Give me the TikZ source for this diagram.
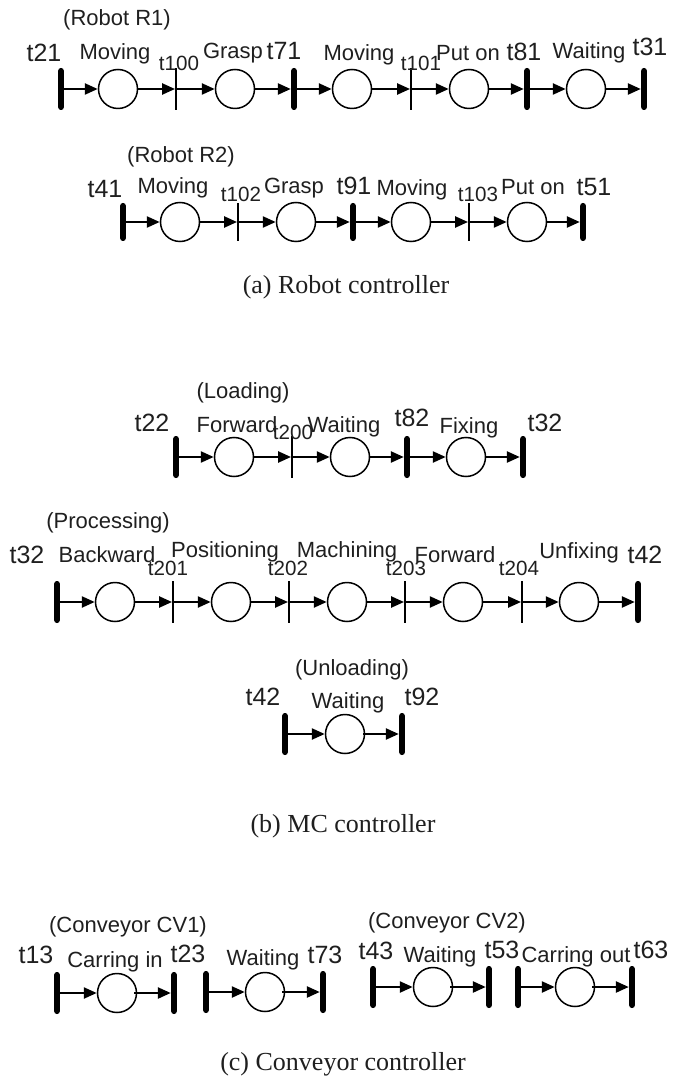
\documentclass[tikz,border=0pt]{standalone}
\usepackage{fontspec}
\newfontfamily\arialfont{Liberation Sans}
\newfontfamily\capfont{Liberation Serif}
\usetikzlibrary{arrows.meta}

\begin{document}
\begin{tikzpicture}[
  x=0.5pt, y=-0.5pt,
  every node/.style = {inner sep=0pt, text=black!88},
  plc/.style = {circle, draw, line width=0.75pt, minimum size=19.5pt},
  tbar/.style = {rectangle, fill=black, rounded corners=1.3pt,
    minimum width=2.8pt, minimum height=21pt},
  tthin/.style = {rectangle, fill=black, minimum width=0.55pt, minimum height=21pt},
  arr/.style = {-{Triangle[length=6.5pt, width=5.5pt]}, line width=1.2pt},
  lbl/.style = {font=\arialfont\fontsize{11}{13}\selectfont},
  tbig/.style = {font=\arialfont\fontsize{12.5}{15}\selectfont},
  tsml/.style = {font=\arialfont\fontsize{10.3}{12}\selectfont},
  capt/.style = {font=\capfont\fontsize{13}{15}\selectfont}
]
\useasboundingbox (0,0) rectangle (673,1080);

% ---- ROBOT R1 (y=89) ----
\node[tbar]  (r1a)  at (61,89)  {};
\node[plc]   (r1p1) at (118,89) {};
\node[tthin] (r1b)  at (176,89) {};
\node[plc]   (r1p2) at (235,89) {};
\node[tbar]  (r1c)  at (294,89) {};
\node[plc]   (r1p3) at (352,89) {};
\node[tthin] (r1d)  at (411,89) {};
\node[plc]   (r1p4) at (469,89) {};
\node[tbar]  (r1e)  at (527,89) {};
\node[plc]   (r1p5) at (586,89) {};
\node[tbar]  (r1f)  at (644,89) {};

\draw[arr] (r1a)  -- (r1p1);  \draw[arr] (r1p1) -- (r1b);
\draw[arr] (r1b)  -- (r1p2);  \draw[arr] (r1p2) -- (r1c);
\draw[arr] (r1c)  -- (r1p3);  \draw[arr] (r1p3) -- (r1d);
\draw[arr] (r1d)  -- (r1p4);  \draw[arr] (r1p4) -- (r1e);
\draw[arr] (r1e)  -- (r1p5);  \draw[arr] (r1p5) -- (r1f);

\node[lbl]  (r1name) at (117,20) {(Robot R1)};
\node[tbig] (r1la)   at (44,53)  {t21};
\node[lbl]  (r1lp1)  at (115,54) {Moving};
\node[tsml] (r1lb)   at (179,63) {t100};
\node[lbl]  (r1lp2)  at (233,53) {Grasp};
\node[tbig] (r1lc)   at (284,51) {t71};
\node[lbl]  (r1lp3)  at (359,55) {Moving};
\node[tsml] (r1ld)   at (421,63) {t101};
\node[lbl]  (r1lp4)  at (468,53) {Put on};
\node[tbig] (r1le)   at (524,52) {t81};
\node[lbl]  (r1lp5)  at (589,53) {Waiting};
\node[tbig] (r1lf)   at (650,47) {t31};

% ---- ROBOT R2 (y=222) ----
\node[tbar, minimum height=19pt]  (r2a)  at (123,222) {};
\node[plc]                        (r2p1) at (180,222) {};
\node[tthin, minimum height=19pt] (r2b)  at (238,222) {};
\node[plc]                        (r2p2) at (296,222) {};
\node[tbar, minimum height=19pt]  (r2c)  at (353,222) {};
\node[plc]                        (r2p3) at (411,222) {};
\node[tthin, minimum height=19pt] (r2d)  at (469,222) {};
\node[plc]                        (r2p4) at (527,222) {};
\node[tbar, minimum height=19pt]  (r2e)  at (583,222) {};

\draw[arr] (r2a)  -- (r2p1);  \draw[arr] (r2p1) -- (r2b);
\draw[arr] (r2b)  -- (r2p2);  \draw[arr] (r2p2) -- (r2c);
\draw[arr] (r2c)  -- (r2p3);  \draw[arr] (r2p3) -- (r2d);
\draw[arr] (r2d)  -- (r2p4);  \draw[arr] (r2p4) -- (r2e);

\node[lbl]  (r2name) at (181,157) {(Robot R2)};
\node[tbig] (r2la)   at (105,189) {t41};
\node[lbl]  (r2lp1)  at (173,188) {Moving};
\node[tsml] (r2lb)   at (241,194) {t102};
\node[lbl]  (r2lp2)  at (294,188) {Grasp};
\node[tbig] (r2lc)   at (354,186) {t91};
\node[lbl]  (r2lp3)  at (412,190) {Moving};
\node[tsml] (r2ld)   at (478,194) {t103};
\node[lbl]  (r2lp4)  at (533,187) {Put on};
\node[tbig] (r2le)   at (594,187) {t51};

\node[capt] (capa) at (346,287) {(a) Robot controller};

% ---- MC LOADING (y=457) ----
\node[tbar]  (lda)  at (176,457) {};
\node[plc]   (ldp1) at (234,457) {};
\node[tthin] (ldb)  at (292,457) {};
\node[plc]   (ldp2) at (350,457) {};
\node[tbar]  (ldc)  at (407,457) {};
\node[plc]   (ldp3) at (466,457) {};
\node[tbar]  (ldd)  at (523,457) {};

\draw[arr] (lda)  -- (ldp1);  \draw[arr] (ldp1) -- (ldb);
\draw[arr] (ldb)  -- (ldp2);  \draw[arr] (ldp2) -- (ldc);
\draw[arr] (ldc)  -- (ldp3);  \draw[arr] (ldp3) -- (ldd);

\node[lbl]  (ldname) at (243,393) {(Loading)};
\node[tbig] (ldla)   at (152,423) {t22};
\node[lbl]  (ldlp1)  at (237,425) {Forward};
\node[tsml] (ldlb)   at (293,432) {t200};
\node[lbl]  (ldlp2)  at (344,427) {Waiting};
\node[tbig] (ldlc)   at (412,418) {t82};
\node[lbl]  (ldlp3)  at (469,428) {Fixing};
\node[tbig] (ldld)   at (545,423) {t32};

% ---- MC PROCESSING (y=602) ----
\node[tbar]  (pra)  at (57,602)  {};
\node[plc]   (prp1) at (115,602) {};
\node[tthin] (prb)  at (173,602) {};
\node[plc]   (prp2) at (231,602) {};
\node[tthin] (prc)  at (289,602) {};
\node[plc]   (prp3) at (347,602) {};
\node[tthin] (prd)  at (405,602) {};
\node[plc]   (prp4) at (463,602) {};
\node[tthin] (pre)  at (522,602) {};
\node[plc]   (prp5) at (579,602) {};
\node[tbar]  (prf)  at (638,602) {};

\draw[arr] (pra)  -- (prp1);  \draw[arr] (prp1) -- (prb);
\draw[arr] (prb)  -- (prp2);  \draw[arr] (prp2) -- (prc);
\draw[arr] (prc)  -- (prp3);  \draw[arr] (prp3) -- (prd);
\draw[arr] (prd)  -- (prp4);  \draw[arr] (prp4) -- (pre);
\draw[arr] (pre)  -- (prp5);  \draw[arr] (prp5) -- (prf);

\node[lbl]  (prname) at (108,523) {(Processing)};
\node[tbig] (prla)   at (27,555)  {t32};
\node[lbl]  (prlp1)  at (107,555) {Backward};
\node[tsml] (prlb)   at (168,568) {t201};
\node[lbl]  (prlp2)  at (225,552) {Positioning};
\node[tsml] (prlc)   at (288,568) {t202};
\node[lbl]  (prlp3)  at (347,552) {Machining};
\node[tsml] (prld)   at (406,568) {t203};
\node[lbl]  (prlp4)  at (455,555) {Forward};
\node[tsml] (prle)   at (519,568) {t204};
\node[lbl]  (prlp5)  at (579,553) {Unfixing};
\node[tbig] (prlf)   at (645,555) {t42};

% ---- MC UNLOADING (y=734) ----
\node[tbar] (ula)  at (285,734) {};
\node[plc]  (ulp1) at (345,734) {};
\node[tbar] (ulb)  at (402,734) {};

\draw[arr] (ula) -- (ulp1);
\draw[arr] ([xshift=-1pt]ulp1.east) -- (ulb);

\node[lbl]  (ulname) at (352,670) {(Unloading)};
\node[tbig] (ulla)   at (263,697) {t42};
\node[lbl]  (ullp1)  at (348,703) {Waiting};
\node[tbig] (ullb)   at (422,697) {t92};

\node[capt] (capb) at (343,826) {(b) MC controller};

% ---- CONVEYOR CV1 (y=993) ----
\node[tbar] (cva)  at (57,993)  {};
\node[plc]  (cvp1) at (117,993) {};
\node[tbar] (cvb)  at (174,993) {};
\node[tbar] (cvc)  at (206,992) {};
\node[plc]  (cvp2) at (265,992) {};
\node[tbar] (cvd)  at (323,992) {};

\draw[arr] (cva) -- (cvp1);  \draw[arr] ([xshift=-1.5pt]cvp1.east) -- (cvb);
\draw[arr] (cvc) -- (cvp2);  \draw[arr] ([xshift=-1.5pt]cvp2.east) -- (cvd);

\node[lbl]  (cvname) at (128,927) {(Conveyor CV1)};
\node[tbig] (cvla)   at (36,955)  {t13};
\node[lbl]  (cvlp1)  at (115,962) {Carring in};
\node[tbig] (cvlb)   at (188,954) {t23};
\node[lbl]  (cvlp2)  at (263,960) {Waiting};
\node[tbig] (cvld)   at (325,955) {t73};

% ---- CONVEYOR CV2 (y=987) ----
\node[tbar] (cwa)  at (373,987) {};
\node[plc]  (cwp1) at (433,987) {};
\node[tbar] (cwb)  at (489,987) {};
\node[tbar] (cwc)  at (518,987) {};
\node[plc]  (cwp2) at (575,987) {};
\node[tbar] (cwd)  at (632,987) {};

\draw[arr] (cwa) -- (cwp1);  \draw[arr] ([xshift=-1.5pt]cwp1.east) -- (cwb);
\draw[arr] (cwc) -- (cwp2);  \draw[arr] ([xshift=-1.5pt]cwp2.east) -- (cwd);

\node[lbl]  (cwname) at (447,923) {(Conveyor CV2)};
\node[tbig] (cwla)   at (376,951) {t43};
\node[lbl]  (cwlp1)  at (440,957) {Waiting};
\node[tbig] (cwlb)   at (502,950) {t53};
\node[lbl]  (cwlp2)  at (576,957) {Carring out};
\node[tbig] (cwld)   at (651,950) {t63};

\node[capt] (capc) at (343,1064) {(c) Conveyor controller};

\end{tikzpicture}
\end{document}
